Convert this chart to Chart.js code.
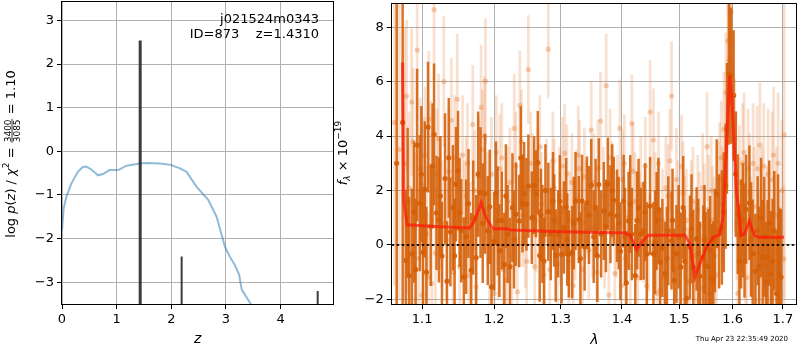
<!DOCTYPE html>
<html>
<head>
<meta charset="utf-8">
<script src="https://cdn.jsdelivr.net/npm/chart.js@4.4.0/dist/chart.umd.min.js"></script>
<style>
  html, body { margin: 0; padding: 0; background: #fff; }
  #wrap { position: relative; width: 800px; height: 350px; overflow: hidden; }
  #pz { position: absolute; left: 0; top: 0; }
  #spec { position: absolute; left: 330px; top: 0; }
</style>
</head>
<body>
<div id="wrap">
  <canvas id="pz" width="340" height="350"></canvas>
  <canvas id="spec" width="470" height="350"></canvas>
</div>
<script>
// ---- left panel: log p(z) ----
const zTicks = [0, 1, 2, 3, 4];
const pzTicks = [-3, -2, -1, 0, 1, 2, 3];
const pzZ   = [0, 0.03, 0.08, 0.17, 0.29, 0.38, 0.44, 0.52, 0.66, 0.75, 0.87, 1.03, 1.18, 1.42, 1.55, 1.79, 1.99, 2.16, 2.28, 2.46, 2.68, 2.83, 2.98, 3.07, 3.16, 3.24, 3.29, 3.44, 3.60];
const pzLog = [-1.80, -1.31, -1.04, -0.74, -0.47, -0.36, -0.35, -0.40, -0.55, -0.52, -0.43, -0.43, -0.33, -0.28, -0.27, -0.28, -0.31, -0.39, -0.47, -0.81, -1.12, -1.50, -2.18, -2.41, -2.60, -2.82, -3.17, -3.47, -3.80];
// redshift peaks (vertical bars)
const peakZ   = [1.431, 2.19, 4.68];
const peakTop = [2.54, -2.41, -3.20];
const peakBase = -5;

// ---- right panel: spectrum ----
const lamTicks = [1.1, 1.2, 1.3, 1.4, 1.5, 1.6, 1.7];
const fluxTicks = [-2, 0, 2, 4, 6, 8];

const darkWave = [1.0668, 1.0745, 1.0787, 1.0829, 1.0864, 1.0894, 1.0934, 1.0970, 1.1013, 1.1036,
  1.1079, 1.1115, 1.1160, 1.1193, 1.1226, 1.1267, 1.1309, 1.1335, 1.1382, 1.1417,
  1.1459, 1.1487, 1.1532, 1.1568, 1.1633, 1.1671, 1.1741, 1.1803, 1.1868, 1.1907,
  1.1961, 1.2000, 1.2050, 1.2075, 1.2147, 1.2195, 1.2267, 1.2319, 1.2367, 1.2391,
  1.2416, 1.2441, 1.2475, 1.2505, 1.2557, 1.2592, 1.2618, 1.2648, 1.2677, 1.2718,
  1.2744, 1.2809, 1.2847, 1.2882, 1.2924, 1.2963, 1.3016, 1.3052, 1.3088, 1.3131,
  1.3183, 1.3237, 1.3289, 1.3341, 1.3383, 1.3420, 1.3453, 1.3490, 1.3561, 1.3614,
  1.3652, 1.3696, 1.3762, 1.3806, 1.3861, 1.3916, 1.3972, 1.4028, 1.4074, 1.4113,
  1.4168, 1.4226, 1.4283, 1.4322, 1.4369, 1.4426, 1.4483, 1.4541, 1.4598, 1.4658,
  1.4699, 1.4746, 1.4804, 1.4862, 1.4910, 1.4951, 1.5031, 1.5073, 1.5134, 1.5196,
  1.5257, 1.5319, 1.5382, 1.5444, 1.5487, 1.5537, 1.5598, 1.5630, 1.5660, 1.5694,
  1.5792, 1.5865, 1.5890, 1.5927, 1.5970, 1.6018, 1.6099, 1.6163, 1.6230, 1.6260,
  1.6327, 1.6391, 1.6444, 1.6489, 1.6557, 1.6589, 1.6658, 1.6689, 1.6757, 1.6823,
  1.6870, 1.6928, 1.6960,
  1.0810, 1.0915, 1.0990, 1.1057, 1.1140, 1.1245, 1.1360, 1.1440, 1.1510, 1.1600,
  1.1700, 1.1770, 1.1835, 1.1935, 1.2025, 1.2110, 1.2170, 1.2230, 1.2290, 1.2695,
  1.2765, 1.2900, 1.2990, 1.3105, 1.3210, 1.3315, 1.3530, 1.3590, 1.3730, 1.3835,
  1.3945, 1.4050, 1.4140, 1.4255, 1.4395, 1.4570, 1.4630, 1.4780, 1.4880, 1.4990,
  1.5100, 1.5225, 1.5350, 1.5465, 1.5570, 1.5740, 1.5830, 1.6060, 1.6130, 1.6200,
  1.6360, 1.6520, 1.6620, 1.6720, 1.6790, 1.6900];
const darkFlux = [3.0, 4.5, -0.57, -1.13, -0.33, 1.21, 3.67, 1.53, -0.27, 2.04,
  4.33, 0.69, 4.06, 1.18, 0.92, -0.41, 2.44, -1.33, 0.48, 1.37,
  2.23, 2.73, 0.52, -1.18, 1.52, -0.93, -0.47, 1.92, 1.88, 0.52,
  -1.54, 0.13, 0.88, -0.21, -0.72, 0.40, 1.37, 1.13, 0.88, 3.19,
  1.52, 1.88, 1.49, 2.16, 1.00, 2.19, 1.88, 3.02, -0.39, 0.40,
  -0.59, 1.22, 0.40, 1.61, -0.39, 0.40, -0.35, 0.64, 1.39, -0.33,
  -0.27, 1.61, 0.93, 1.61, -0.08, 1.55, 1.10, 2.19, 1.37, 2.22,
  0.40, 1.25, 2.24, 1.13, 1.64, 1.07, -0.23, 1.61, -1.39, 0.88,
  0.40, -1.13, 1.37, 0.40, 0.52, -0.33, 1.43, -0.33, 0.88, -0.63,
  -0.11, -1.05, 0.52, 0.16, -1.30, -0.33, -0.81, 1.37, -1.96, -0.08,
  -0.81, 0.22, -1.15, -0.45, -0.79, -0.79, -1.24, -1.24, 0.16, 1.88,
  0.64, 2.16, 4.28, 6.28, 6.22, 5.49, 1.13, 0.40, 0.16, 1.31,
  1.55, -0.33, -0.96, 0.52, 1.00, -0.45, -1.36, -0.45, -1.05, 0.52,
  -1.78, -1.05, -1.18,
  1.6, -0.9, 2.6, -1.0, 2.9, 1.8, 3.2, -0.4, 1.2, 0.3,
  1.0, 2.6, 0.8, 1.4, 1.9, 0.9, 1.8, -0.8, 0.2, 1.1,
  2.0, 0.9, 1.6, 0.2, 0.8, -0.5, 0.3, -0.4, 0.7, 2.0,
  0.8, 0.3, 1.5, 0.9, 1.2, 0.1, 1.3, -0.5, 0.9, 0.3,
  -0.6, 0.6, -0.3, 0.2, -0.2, 0.5, 1.2, 2.6, -0.6, 0.9,
  0.2, -0.8, 0.3, 0.8, -0.6, 0.2];
const darkErr = [15, 12, 2.6, 2.9, 2.4, 2.6, 2.8, 2.5, 2.3, 2.5,
  2.4, 2.2, 2.6, 2.1, 2.3, 2.0, 2.4, 2.2, 2.0, 2.3,
  2.1, 2.2, 1.9, 2.2, 2.0, 2.1, 2.3, 2.4, 2.2, 2.0,
  2.1, 1.8, 2.0, 1.7, 1.9, 1.8, 2.0, 1.9, 1.7, 1.9,
  1.8, 1.9, 1.7, 1.9, 1.7, 1.8, 1.6, 1.9, 1.7, 1.8,
  1.6, 1.8, 1.7, 1.8, 1.7, 1.6, 1.8, 1.7, 1.8, 1.6,
  1.7, 1.8, 1.6, 1.7, 1.6, 1.7, 1.8, 1.7, 1.8, 1.7,
  1.6, 1.8, 1.7, 1.8, 1.6, 1.7, 1.8, 1.7, 1.9, 1.8,
  1.7, 1.9, 1.8, 1.7, 1.8, 1.9, 1.8, 1.9, 1.8, 2.0,
  1.8, 1.9, 2.0, 1.8, 1.9, 1.8, 2.0, 1.9, 2.0, 1.9,
  2.1, 1.9, 2.0, 1.9, 2.0, 2.1, 2.0, 2.1, 1.9, 2.0,
  2.1, 2.3, 2.4, 2.6, 2.5, 2.4, 2.2, 2.0, 2.1, 2.0,
  2.1, 2.0, 2.1, 2.0, 2.2, 2.1, 2.2, 2.1, 2.3, 2.2,
  2.3, 2.4, 2.5,
  2.7, 2.6, 2.5, 2.4, 2.3, 2.2, 2.2, 2.1, 2.0, 2.1,
  2.1, 2.3, 2.2, 2.1, 1.9, 1.8, 1.9, 1.8, 1.8, 1.7,
  1.7, 1.7, 1.7, 1.7, 1.7, 1.7, 1.7, 1.7, 1.7, 1.7,
  1.7, 1.8, 1.8, 1.8, 1.8, 1.9, 1.9, 1.9, 1.9, 1.9,
  1.9, 2.0, 2.0, 2.0, 2.0, 2.1, 2.2, 2.3, 2.1, 2.1,
  2.1, 2.2, 2.2, 2.3, 2.3, 2.4];

const lightWave = [1.0640, 1.0700, 1.0770, 1.0796, 1.0830, 1.0862, 1.0900, 1.0935, 1.0975, 1.1000,
  1.1040, 1.1079, 1.1089, 1.1130, 1.1160, 1.1200, 1.1240, 1.1293, 1.1330, 1.1395,
  1.1440, 1.1477, 1.1510, 1.1550, 1.1600, 1.1640, 1.1693, 1.1740, 1.1780, 1.1811,
  1.1860, 1.1874, 1.1930, 1.2000, 1.2030, 1.2080, 1.2130, 1.2180, 1.2230, 1.2293,
  1.2340, 1.2377, 1.2420, 1.2460, 1.2505, 1.2540, 1.2600, 1.2650, 1.2700, 1.2740,
  1.2809, 1.2850, 1.2900, 1.2950, 1.3000, 1.3064, 1.3100, 1.3150, 1.3200, 1.3250,
  1.3300, 1.3350, 1.3400, 1.3450, 1.3490, 1.3530, 1.3580, 1.3642, 1.3690, 1.3735,
  1.3780, 1.3830, 1.3880, 1.3920, 1.3964, 1.4010, 1.4060, 1.4110, 1.4167, 1.4220,
  1.4270, 1.4320, 1.4370, 1.4420, 1.4483, 1.4541, 1.4600, 1.4660, 1.4700, 1.4760,
  1.4834, 1.4862, 1.4920, 1.4980, 1.5043, 1.5100, 1.5160, 1.5220, 1.5280, 1.5340,
  1.5400, 1.5460, 1.5514, 1.5560, 1.5610, 1.5660, 1.5720, 1.5780, 1.5830, 1.5870,
  1.5907, 1.5935, 1.5965, 1.5970, 1.6010, 1.6060, 1.6100, 1.6150, 1.6196, 1.6250,
  1.6300, 1.6350, 1.6400, 1.6450, 1.6533, 1.6580, 1.6640, 1.6700, 1.6780, 1.6840,
  1.6900, 1.6950, 1.7020, 1.7025,
  1.0815, 1.0880, 1.0955, 1.1020, 1.1060, 1.1110, 1.1180, 1.1220, 1.1270, 1.1360,
  1.1420, 1.1575, 1.1620, 1.1665, 1.1720, 1.1830, 1.1900, 1.1960, 1.2060, 1.2110,
  1.2200, 1.2260, 1.2320, 1.2400, 1.2480, 1.2570, 1.2620, 1.2680, 1.2780, 1.2830,
  1.2880, 1.2980, 1.3030, 1.3130, 1.3180, 1.3230, 1.3280, 1.3380, 1.3510, 1.3600,
  1.3710, 1.3800, 1.3900, 1.3990, 1.4040, 1.4140, 1.4190, 1.4300, 1.4400, 1.4460,
  1.4570, 1.4630, 1.4730, 1.4800, 1.4890, 1.4950, 1.5010, 1.5070, 1.5130, 1.5190,
  1.5250, 1.5310, 1.5370, 1.5430, 1.5490, 1.5540, 1.5590, 1.5640, 1.5690, 1.5750,
  1.5800, 1.6040, 1.6080, 1.6130, 1.6220, 1.6280, 1.6330, 1.6420, 1.6480, 1.6510,
  1.6610, 1.6670, 1.6740, 1.6810, 1.6870, 1.6930, 1.6980];
const lightFlux = [4.5, 3.5, 3.0, 5.47, 2.1, 5.25, 0.6, 7.16, 2.8, -1.84,
  3.3, -1.18, 4.62, -1.42, 8.64, 2.6, 1.5, 6.0, 0.2, 4.58,
  3.2, 5.35, -0.8, 3.3, 1.8, -1.12, 4.42, -1.54, 2.5, 5.05,
  4.0, 6.02, -0.6, -1.78, 3.4, 2.8, -0.9, -1.30, 2.3, 4.28,
  -1.72, 5.13, 1.1, 0.3, 6.44, 3.0, -0.8, 2.4, 1.5, -1.1,
  7.19, 1.2, 2.1, -0.7, 0.3, 3.37, 2.62, 0.9, -1.5, 1.7,
  2.8, -0.9, 1.3, -0.2, 4.22, 2.3, -1.0, 4.55, 1.8, 5.85,
  -1.84, 2.0, -1.05, 1.5, 4.28, 2.4, -0.5, 1.0, 4.46, 1.6,
  -1.2, 2.2, 0.4, -1.5, 4.88, 3.85, -1.78, -1.66, 0.9, 2.1,
  3.09, 5.47, -0.9, 1.2, 2.88, 0.6, -1.3, 1.1, -0.4, 1.3,
  -1.6, 1.0, 3.61, -1.78, 0.9, -0.4, 1.8, 3.2, 4.25, 5.6,
  7.49, 6.8, 7.65, 8.55, 5.5, 2.7, -1.78, 1.1, 3.0, -0.6,
  2.8, 0.3, 3.0, -1.0, 3.67, 1.3, -0.8, 2.6, 2.4, 0.2,
  3.0, -1.2, -0.51, 4.04,
  1.0, 3.8, -0.5, 2.2, 0.4, 2.9, -0.3, 3.9, 0.8, 2.7,
  -1.0, 0.9, 3.0, 0.1, 2.0, 3.5, 1.3, 2.6, 0.0, 3.2,
  1.6, -0.4, 2.9, 3.8, -0.6, 2.2, 0.9, 3.6, 2.0, -0.9,
  3.1, 1.8, 2.9, -0.6, 2.3, 0.5, 3.3, 2.5, 0.6, 2.8,
  0.2, 3.2, 0.6, -1.5, 3.0, -0.8, 2.7, 0.9, 2.9, 0.1,
  1.5, 3.0, -1.2, 1.8, 0.4, 2.4, -0.8, 1.9, 0.9, -1.4,
  1.6, -0.9, 0.7, 2.1, -0.6, 1.3, 2.0, 0.5, -1.1, 2.4,
  1.5, 3.9, 0.8, 2.3, 3.4, -1.2, 1.9, 1.4, 2.8, -0.3,
  2.9, 0.5, -1.3, 3.3, 1.1, -0.6, 2.0];
const lightErr = [6, 5.5, 5, 2.8, 2.8, 2.7, 2.8, 2.6, 2.6, 2.5,
  2.5, 2.4, 2.5, 2.4, 2.6, 2.4, 2.4, 2.4, 2.3, 2.3,
  2.3, 2.4, 2.2, 2.2, 2.2, 2.2, 2.2, 2.2, 2.2, 2.3,
  2.2, 2.3, 2.1, 2.1, 2.1, 2.0, 2.0, 2.0, 2.0, 2.0,
  2.0, 2.0, 1.9, 1.9, 2.0, 1.9, 1.9, 1.9, 1.9, 1.9,
  1.8, 1.9, 1.8, 1.8, 1.8, 1.8, 1.8, 1.8, 1.8, 1.8,
  1.8, 1.8, 1.8, 1.8, 1.8, 1.8, 1.8, 1.8, 1.8, 1.9,
  1.8, 1.8, 1.8, 1.8, 1.8, 1.8, 1.8, 1.8, 1.8, 1.8,
  1.8, 1.8, 1.8, 1.8, 1.9, 1.9, 1.9, 1.9, 1.9, 1.9,
  1.9, 2.0, 1.9, 1.9, 1.9, 1.9, 1.9, 2.0, 2.0, 2.0,
  2.0, 2.0, 2.0, 2.0, 2.0, 2.0, 2.0, 2.1, 2.1, 2.2,
  2.3, 2.3, 2.4, 2.5, 2.3, 2.2, 2.1, 2.1, 2.2, 2.1,
  2.2, 2.2, 2.2, 2.2, 2.3, 2.3, 2.3, 2.4, 2.5, 2.5,
  2.6, 2.6, 2.7, 6,
  2.8, 2.7, 2.6, 2.5, 2.5, 2.4, 2.4, 2.4, 2.3, 2.3,
  2.3, 2.2, 2.2, 2.2, 2.2, 2.2, 2.1, 2.1, 2.0, 2.0,
  2.0, 2.0, 2.0, 1.9, 1.9, 1.9, 1.9, 1.9, 1.9, 1.9,
  1.8, 1.8, 1.8, 1.8, 1.8, 1.8, 1.8, 1.8, 1.8, 1.8,
  1.8, 1.8, 1.8, 1.8, 1.8, 1.8, 1.8, 1.8, 1.8, 1.8,
  1.9, 1.9, 1.9, 1.9, 1.9, 1.9, 1.9, 1.9, 1.9, 1.9,
  2.0, 2.0, 2.0, 2.0, 2.0, 2.0, 2.0, 2.0, 2.0, 2.1,
  2.1, 2.2, 2.1, 2.1, 2.2, 2.2, 2.2, 2.2, 2.3, 2.3,
  2.3, 2.4, 2.4, 2.5, 2.5, 2.6, 2.6];

const modelWave = [1.0744, 1.0760, 1.0803, 1.1100, 1.1648, 1.1718, 1.1812, 1.1882, 1.1980, 1.2172,
  1.2245, 1.3025, 1.4053, 1.4141, 1.4251, 1.4337, 1.4454, 1.5104, 1.5195, 1.5287,
  1.5379, 1.5503, 1.5628, 1.5751, 1.5814, 1.5877, 1.5941, 1.5984, 1.6068, 1.6164,
  1.6230, 1.6326, 1.6424, 1.6523, 1.7023];
const modelFlux = [6.70, 1.61, 0.74, 0.69, 0.62, 0.88, 1.55, 1.00, 0.59, 0.59,
  0.55, 0.48, 0.44, 0.34, -0.18, 0.10, 0.36, 0.36, 0.04, -1.18,
  -0.69, -0.08, 0.28, 0.38, 1.00, 3.43, 6.22, 5.37, 2.10, 0.34,
  0.40, 0.88, 0.34, 0.28, 0.28];
const zeroWave = [1.0604, 1.727];

const FONT = '"DejaVu Sans", sans-serif';
const GRID = '#b0b0b0';
const minus = v => (v < 0 ? '\u2212' + Math.abs(v) : String(v));
const pts = (xs, ys) => xs.map((x, i) => ({ x, y: ys[i] }));

// spines on all four sides
const frame = {
  id: 'frame',
  afterDraw(chart) {
    const { ctx, chartArea: a } = chart;
    ctx.save();
    ctx.strokeStyle = '#000';
    ctx.lineWidth = 1;
    ctx.strokeRect(Math.round(a.left) - 0.5, Math.round(a.top) - 0.5,
      Math.round(a.right) - Math.round(a.left) + 1, Math.round(a.bottom) - Math.round(a.top) + 1);
    ctx.restore();
  }
};

// vertical error bars for datasets carrying an `errs` array
const errorBars = {
  id: 'errorBars',
  beforeDatasetDraw(chart, args) {
    const ds = chart.data.datasets[args.index];
    if (!ds.errs) return;
    const { ctx, chartArea: a, scales: { x, y } } = chart;
    ctx.save();
    ctx.beginPath();
    ctx.rect(a.left, a.top, a.right - a.left, a.bottom - a.top);
    ctx.clip();
    ctx.strokeStyle = ds.errColor;
    ctx.lineWidth = ds.errWidth;
    ds.data.forEach((p, i) => {
      const px = x.getPixelForValue(p.x);
      ctx.beginPath();
      ctx.moveTo(px, y.getPixelForValue(p.y - ds.errs[i]));
      ctx.lineTo(px, y.getPixelForValue(p.y + ds.errs[i]));
      ctx.stroke();
    });
    ctx.restore();
  }
};

// draw a run of text pieces along a (possibly rotated) baseline
function drawPieces(ctx, pieces, cx, cy, rotated) {
  ctx.save();
  ctx.translate(cx, cy);
  if (rotated) ctx.rotate(-Math.PI / 2);
  ctx.fillStyle = '#000';
  ctx.strokeStyle = '#000';
  ctx.textBaseline = 'alphabetic';
  ctx.textAlign = 'left';
  const widthOf = p => {
    ctx.font = p.font;
    if (p.frac) {
      return Math.max(ctx.measureText(p.frac[0]).width, ctx.measureText(p.frac[1]).width) + 2;
    }
    return ctx.measureText(p.t).width;
  };
  const total = pieces.reduce((s, p) => s + widthOf(p), 0);
  let u = -total / 2;
  pieces.forEach(p => {
    const w = widthOf(p);
    ctx.font = p.font;
    if (p.frac) {
      ctx.textAlign = 'center';
      ctx.fillText(p.frac[0], u + w / 2, -1.5);
      ctx.fillText(p.frac[1], u + w / 2, 8.2);
      ctx.lineWidth = 0.8;
      ctx.beginPath();
      ctx.moveTo(u + 0.5, 0);
      ctx.lineTo(u + w - 0.5, 0);
      ctx.stroke();
      ctx.textAlign = 'left';
    } else {
      ctx.fillText(p.t, u, 3 + (p.dy || 0));
    }
    u += w;
  });
  ctx.restore();
}

const pzLabels = {
  id: 'pzLabels',
  afterDraw(chart) {
    const { ctx, chartArea: a } = chart;
    const base = '13px ' + FONT, ital = 'italic 13px ' + FONT, small = '9px ' + FONT;
    drawPieces(ctx, [
      { t: 'log ', font: base }, { t: 'p', font: ital }, { t: '(', font: base }, { t: 'z', font: ital },
      { t: ') / ', font: base }, { t: '\u03c7', font: ital }, { t: '2', font: small, dy: -6 },
      { t: ' = ', font: base }, { frac: ['3400', '3085'], font: small }, { t: ' = 1.10', font: base }
    ], 12, 154, true);
    ctx.save();
    ctx.fillStyle = '#000';
    ctx.font = 'italic 14px ' + FONT;
    ctx.textAlign = 'center';
    ctx.textBaseline = 'middle';
    ctx.fillText('z', 197.7, 339);
    ctx.font = '13px ' + FONT;
    ctx.textAlign = 'right';
    ctx.fillText('j021524m0343', a.right - 14, 20);
    ctx.fillText('ID=873    z=1.4310', a.right - 14, 35);
    ctx.restore();
  }
};

const specLabels = {
  id: 'specLabels',
  afterDraw(chart) {
    const { ctx } = chart;
    const base = '13px ' + FONT, ital = 'italic 13px ' + FONT;
    drawPieces(ctx, [
      { t: 'f', font: ital }, { t: '\u03bb', font: 'italic 9px ' + FONT, dy: 3 },
      { t: ' \u00d7 10', font: base }, { t: '\u221219', font: '9px ' + FONT, dy: -6 }
    ], 14, 153, true);
    ctx.save();
    ctx.fillStyle = '#000';
    ctx.font = 'italic 14px ' + FONT;
    ctx.textAlign = 'center';
    ctx.textBaseline = 'middle';
    ctx.fillText('\u03bb', 264.3, 340);
    ctx.font = '7px ' + FONT;
    ctx.textAlign = 'right';
    ctx.fillText('Thu Apr 23 22:35:49 2020', 458, 339);
    ctx.restore();
  }
};

function axisOpts(extra) {
  return Object.assign({
    z: 1,
    grid: { color: GRID, lineWidth: 1, tickColor: '#000', tickLength: 5, tickWidth: 1 },
    border: { display: false },
    ticks: { color: '#000', font: { family: FONT, size: 13 }, padding: 3, maxRotation: 0, autoSkip: false }
  }, extra);
}
// fixed axis boxes so the plot areas land where the reference has them
const fitX = s => { s.height = 46; s.paddingLeft = 0; s.paddingRight = 0; };
const fitY = w => s => { s.width = w; s.paddingTop = 0; s.paddingBottom = 0; };

new Chart(document.getElementById('pz'), {
  type: 'scatter',
  data: {
    datasets: [
      { data: pts(pzZ, pzLog), showLine: true, borderColor: 'rgba(31,119,180,0.5)', borderWidth: 2,
        pointRadius: 0, order: 4 },
      ...peakZ.map((z, i) => ({
        data: [{ x: z, y: peakBase }, { x: z, y: peakTop[i] }], showLine: true,
        borderColor: 'rgba(40,40,40,0.9)', borderWidth: i === 0 ? 3 : 2, pointRadius: 0, order: 1
      }))
    ]
  },
  options: {
    responsive: false, animation: false, events: [],
    layout: { padding: { left: 0, right: 7, top: 1, bottom: 0 } },
    plugins: { legend: { display: false }, tooltip: { enabled: false } },
    scales: {
      x: axisOpts({ type: 'linear', min: 0, max: 4.96,
        afterBuildTicks: s => { s.ticks = zTicks.map(v => ({ value: v })); },
        afterFit: fitX }),
      y: axisOpts({ type: 'linear', min: -3.50, max: 3.435,
        afterBuildTicks: s => { s.ticks = pzTicks.map(v => ({ value: v })); },
        afterFit: fitY(62) })
    }
  },
  plugins: [frame, pzLabels]
});
Chart.getChart('pz').options.scales.x.ticks.callback = v => minus(v);
Chart.getChart('pz').options.scales.y.ticks.callback = v => minus(v);
Chart.getChart('pz').update();

new Chart(document.getElementById('spec'), {
  type: 'scatter',
  data: {
    datasets: [
      { data: pts(lightWave, lightFlux), errs: lightErr, errColor: 'rgba(228,120,45,0.22)', errWidth: 2.8,
        pointRadius: 2.6, pointBackgroundColor: 'rgba(228,120,45,0.35)', pointBorderWidth: 0, order: 4 },
      { data: pts(darkWave, darkFlux), errs: darkErr, errColor: 'rgba(212,96,8,0.88)', errWidth: 2.5,
        pointRadius: 2.6, pointBackgroundColor: 'rgba(212,96,8,0.92)', pointBorderWidth: 0, order: 3 },
      { data: pts(modelWave, modelFlux), showLine: true, borderColor: 'rgba(255,25,10,0.72)', borderWidth: 3,
        pointRadius: 0, order: 2 },
      { data: pts(zeroWave, [0, 0]), showLine: true, borderColor: 'rgba(0,0,0,0.85)', borderWidth: 2,
        borderDash: [2.5, 2.5], pointRadius: 0, order: 1 }
    ]
  },
  options: {
    responsive: false, animation: false, events: [],
    layout: { padding: { left: 0, right: 1, top: 1, bottom: 0 } },
    plugins: { legend: { display: false }, tooltip: { enabled: false } },
    scales: {
      x: axisOpts({ type: 'logarithmic', min: 1.0604, max: 1.727,
        afterBuildTicks: s => { s.ticks = lamTicks.map(v => ({ value: v })); },
        afterFit: fitX }),
      y: axisOpts({ type: 'linear', min: -2.17, max: 8.85,
        afterBuildTicks: s => { s.ticks = fluxTicks.map(v => ({ value: v })); },
        afterFit: fitY(61.7) })
    }
  },
  plugins: [errorBars, frame, specLabels]
});
Chart.getChart('spec').options.scales.x.ticks.callback = v => Number(v).toFixed(1);
Chart.getChart('spec').options.scales.y.ticks.callback = v => minus(v);
Chart.getChart('spec').update();
</script>
</body>
</html>
